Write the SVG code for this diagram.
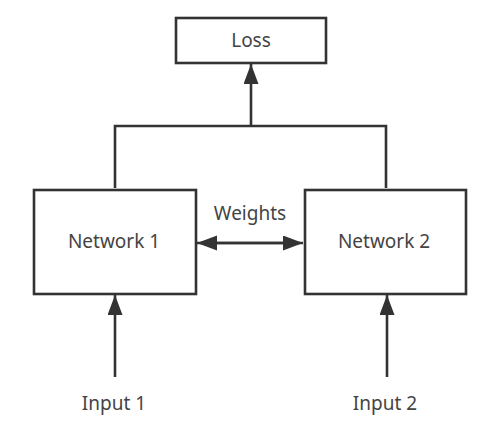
<svg xmlns="http://www.w3.org/2000/svg" width="495" height="431" viewBox="0 0 495 431">
<style>
.box{fill:#fff;stroke:#333;stroke-width:2.6}
.ln{fill:none;stroke:#333;stroke-width:2.6}
.t{font-family:"Noto Sans","Open Sans",sans-serif;font-size:19px;fill:#444;text-anchor:middle}
</style>
<defs>
<marker id="ah" markerUnits="userSpaceOnUse" markerWidth="22" markerHeight="16" refX="20" refY="7.5" orient="auto">
<path d="M0,0 L20,7.5 L0,15 Z" fill="#333"/>
</marker>
</defs>
<rect width="495" height="431" fill="#fff"/>
<g id="connectors">
<path class="ln" d="M115,188 V126 H386 V188"/>
<line class="ln" x1="251" y1="126" x2="251" y2="64" marker-end="url(#ah)"/>
<line class="ln" x1="215" y1="243" x2="303" y2="243" marker-end="url(#ah)"/>
<line class="ln" x1="285" y1="243" x2="197" y2="243" marker-end="url(#ah)"/>
<line class="ln" x1="115" y1="377" x2="115" y2="295" marker-end="url(#ah)"/>
<line class="ln" x1="387" y1="377" x2="387" y2="295" marker-end="url(#ah)"/>
<text class="t" x="250" y="220">Weights</text>
</g>
<g id="loss">
<rect class="box" x="176" y="18" width="150" height="45"/>
<text class="t" x="251" y="47">Loss</text>
</g>
<g id="network1">
<rect class="box" x="34" y="190" width="162" height="104"/>
<text class="t" x="114" y="248">Network 1</text>
</g>
<g id="network2">
<rect class="box" x="305" y="190" width="161" height="104"/>
<text class="t" x="384" y="248">Network 2</text>
</g>
<g id="input1">
<text class="t" x="114" y="410">Input 1</text>
</g>
<g id="input2">
<text class="t" x="385" y="410">Input 2</text>
</g>
</svg>
